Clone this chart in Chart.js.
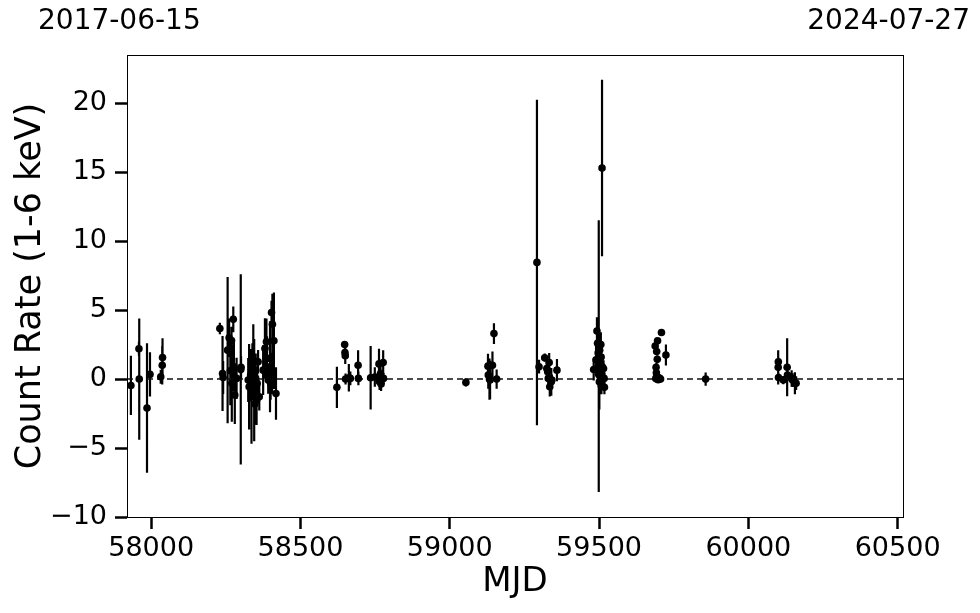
<!DOCTYPE html>
<html>
<head>
<meta charset="utf-8">
<script src="https://cdn.jsdelivr.net/npm/chart.js@4/dist/chart.umd.min.js"></script>
<style>
 body { margin: 0; background: #fff; }
 canvas { display: block; }
</style>
</head>
<body>
<canvas id="chart" width="980" height="613"></canvas>
<script>
// MJD of each observation, count rate and 1-sigma error
const mjd = [
 57932, 57959, 57960, 57986, 57996, 58032, 58037, 58038,
 58230, 58239, 58241, 58256, 58261, 58265, 58269, 58270, 58275, 58277, 58280, 58286,
 58300, 58301, 58325, 58328, 58333, 58336, 58339, 58342, 58345, 58347, 58350, 58353, 58355, 58358, 58362,
 58375, 58381, 58386, 58388, 58392, 58398, 58400, 58403, 58405, 58406, 58411, 58418,
 58622, 58648, 58649, 58650, 58651, 58662, 58667, 58693, 58694, 58735, 58749, 58763, 58765, 58768, 58770, 58777, 58778,
 59054, 59128, 59129, 59133, 59135, 59143, 59148, 59157,
 59292, 59299, 59318, 59325, 59328, 59330, 59333, 59335, 59340, 59342, 59359,
 59482, 59490, 59493, 59495, 59497, 59498, 59499, 59500, 59501, 59502, 59503, 59504, 59505, 59506, 59507, 59508, 59509, 59510, 59511, 59513, 59515, 59517, 59518,
 59688, 59690, 59691, 59692, 59693, 59694, 59695, 59696, 59697, 59698, 59700, 59703, 59706, 59709, 59724,
 59857,
 60100, 60100.5, 60101, 60117, 60130, 60131, 60145, 60148, 60156, 60160
];
const rate = [
 -0.46, 2.2, 0.0, -2.1, 0.34, 0.17, 1.0, 1.57,
 3.67, 0.41, 0.12, 2.1, 3.0, 0.6, 2.8, -0.3, 4.33, 0.9, -1.16, 0.05,
 0.7, 0.85, -0.07, -0.56, 0.29, -1.28, 0.6, 1.38, -0.8, -1.8, 0.05, -1.52, -0.31, 1.26, -1.28,
 0.65, 2.22, 2.7, 1.5, -0.07, 0.9, -0.3, 4.83, 0.41, 3.98, 2.78, -1.04,
 -0.6, 2.5, 1.93, 1.7, 0.0, 0.1, 0.05, 1.0, 0.05, 0.1, 0.15, 1.1, -0.2, 0.4, -0.36, 1.2, 0.05,
 -0.24, 0.94, 0.3, 0.0, -0.07, 1.0, 3.3, 0.0,
 8.46, 0.9, 1.55, 0.77, 0.53, 0.05, 1.2, -0.56, -0.2, -0.07, 0.65,
 0.7, 1.4, 3.48, 2.6, 1.9, 1.0, 1.67, 0.3, -0.2, 2.1, 1.2, 0.5, 0.0, 2.5, 1.6, -0.3, 0.4, 15.3, 0.9, 0.1, 0.77, 0.05, -0.6,
 2.4, 0.05, 0.85, 0.46, 2.0, 0.17, 1.43, 2.78, 0.0, -0.05, 0.1, 0.05, 0.0, 3.38, 1.74,
 0.0,
 0.85, 1.26, 0.12, -0.07, 0.86, 0.3, 0.05, -0.07, -0.3, -0.3
];
const rateErr = [
 2.15, 0.5, 4.4, 4.7, 1.6, 0.5, 1.4, 1.4,
 0.42, 2.72, 1.2, 5.3, 1.4, 2.5, 1.0, 2.8, 0.93, 1.8, 2.1, 1.5,
 6.9, 0.8, 1.6, 3.1, 1.9, 3.4, 2.0, 2.6, 3.7, 1.5, 1.8, 1.8, 1.2, 0.85, 1.0,
 1.8, 2.2, 1.7, 1.6, 1.0, 3.3, 1.2, 0.85, 1.5, 2.2, 3.5, 1.9,
 1.5, 0.25, 0.3, 0.6, 0.4, 1.0, 0.5, 1.1, 0.5, 2.3, 0.7, 1.1, 0.6, 0.8, 0.5, 0.9, 0.4,
 0.3, 0.9, 1.0, 1.5, 1.4, 1.0, 0.75, 0.7,
 11.8, 0.5, 0.3, 0.5, 0.6, 0.5, 0.7, 0.7, 1.0, 0.4, 0.8,
 0.8, 1.2, 1.0, 1.5, 1.3, 1.6, 9.85, 1.0, 2.0, 1.2, 1.0, 0.9, 0.7, 0.9, 0.8, 0.8, 1.1, 6.4, 0.7, 0.5, 0.6, 0.4, 0.5,
 0.2, 0.3, 0.3, 0.3, 0.25, 0.2, 0.3, 0.2, 0.2, 0.2, 0.2, 0.2, 0.2, 0.15, 0.76,
 0.48,
 1.25, 0.3, 0.3, 0.3, 2.1, 0.4, 0.6, 0.5, 0.8, 0.5
];

const xLimits = [57919, 60518];
const yLimits = [-10, 23.5];
const xTicks = [58000, 58500, 59000, 59500, 60000, 60500];
const yTicks = [-10, -5, 0, 5, 10, 15, 20];
const dateLabels = ["2017-06-15", "2024-07-27"];

const FONT = "'DejaVu Sans', sans-serif";

const points = mjd.map((m, i) => ({ x: m, y: rate[i], err: rateErr[i] }));

const errorBars = {
 id: "errorBars",
 beforeDatasetsDraw(chart) {
 const { ctx, scales: { x, y } } = chart;
 ctx.save();
 ctx.strokeStyle = "#000";
 ctx.lineWidth = 2.2;
 ctx.beginPath();
 points.forEach(p => {
 const px = x.getPixelForValue(p.x);
 ctx.moveTo(px, y.getPixelForValue(p.y - p.err));
 ctx.lineTo(px, y.getPixelForValue(p.y + p.err));
 });
 ctx.stroke();
 ctx.restore();
 }
};

const frame = {
 id: "frame",
 afterDraw(chart) {
 const { ctx, chartArea: a } = chart;
 ctx.save();
 ctx.strokeStyle = "#000";
 ctx.lineWidth = 1;
 ctx.strokeRect(a.left + 0.5, a.top + 0.5, a.right - a.left, a.bottom - a.top);
 ctx.fillStyle = "#000";
 ctx.font = "28px " + FONT;
 ctx.textBaseline = "middle";
 ctx.textAlign = "left";
 ctx.fillText(dateLabels[0], 38, 22);
 ctx.textAlign = "right";
 ctx.fillText(dateLabels[1], 970, 22);
 ctx.restore();
 }
};

const fmt = v => String(v).replace("-", "\u2212");

new Chart(document.getElementById("chart").getContext("2d"), {
 type: "scatter",
 data: {
 datasets: [
 {
 data: points,
 backgroundColor: "#000",
 borderColor: "#000",
 pointRadius: 3.8,
 pointBorderWidth: 0
 },
 {
 type: "line",
 data: [{ x: xLimits[0], y: 0 }, { x: xLimits[1], y: 0 }],
 borderColor: "#111",
 borderWidth: 1.5,
 borderDash: [6, 4],
 pointRadius: 0
 }
 ]
 },
 options: {
 responsive: false,
 animation: false,
 devicePixelRatio: 1,
 layout: { padding: { top: 55, right: 77, left: 0, bottom: 0 } },
 plugins: { legend: { display: false }, tooltip: { enabled: false } },
 scales: {
 x: {
 type: "linear",
 min: xLimits[0],
 max: xLimits[1],
 afterBuildTicks: s => { s.ticks = xTicks.map(v => ({ value: v })); },
 afterFit: s => { s.height = 96; },
 grid: { drawOnChartArea: false, drawTicks: true, tickLength: 12, tickWidth: 2.5, tickColor: "#000" },
 border: { display: true, color: "#000", width: 1 },
 ticks: { color: "#000", font: { family: FONT, size: 27 }, padding: 4, maxRotation: 0, callback: v => String(v) },
 title: { display: true, text: "MJD", color: "#000", font: { family: FONT, size: 34 }, padding: { bottom: 10 } }
 },
 y: {
 min: yLimits[0],
 max: yLimits[1],
 afterBuildTicks: s => { s.ticks = yTicks.map(v => ({ value: v })); },
 afterFit: s => { s.width = 127; },
 grid: { drawOnChartArea: false, drawTicks: true, tickLength: 12, tickWidth: 2.5, tickColor: "#000" },
 border: { display: true, color: "#000", width: 1 },
 ticks: { color: "#000", font: { family: FONT, size: 27 }, padding: 8, callback: v => fmt(v) },
 title: { display: true, text: "Count Rate (1-6 keV)", color: "#000", font: { family: FONT, size: 35 }, padding: { top: 10 } }
 }
 }
 },
 plugins: [errorBars, frame]
});
</script>
</body>
</html>
